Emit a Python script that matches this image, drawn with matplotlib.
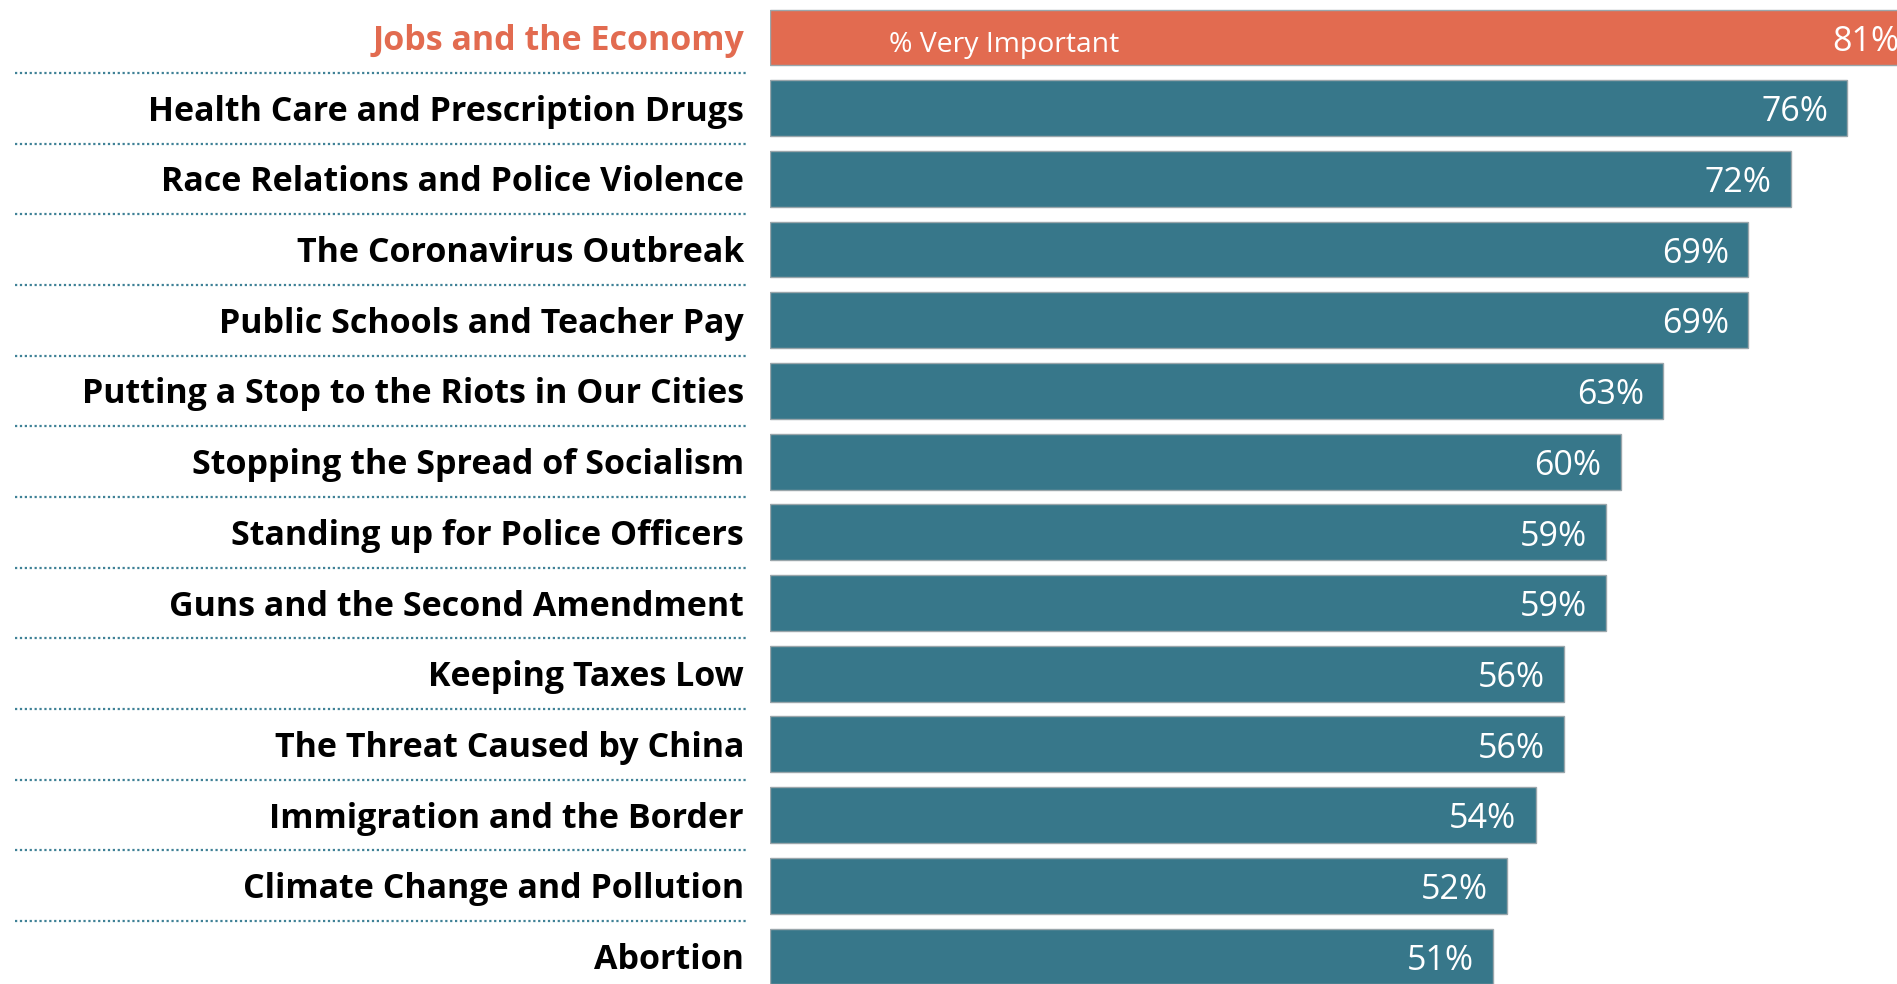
import matplotlib
matplotlib.use("Agg")
import matplotlib.pyplot as plt
import matplotlib.transforms as mtransforms
from matplotlib.lines import Line2D

# survey issues, top to bottom
issues = [
    "Jobs and the Economy",
    "Health Care and Prescription Drugs",
    "Race Relations and Police Violence",
    "The Coronavirus Outbreak",
    "Public Schools and Teacher Pay",
    "Putting a Stop to the Riots in Our Cities",
    "Stopping the Spread of Socialism",
    "Standing up for Police Officers",
    "Guns and the Second Amendment",
    "Keeping Taxes Low",
    "The Threat Caused by China",
    "Immigration and the Border",
    "Climate Change and Pollution",
    "Abortion",
]
very_important = [81, 76, 72, 69, 69, 63, 60, 59, 59, 56, 56, 54, 52, 51]
legend_label = "% Very Important"

orange = "#E26B50"
teal = "#37778A"

plt.rcParams['font.family'] = ['Open Sans', 'DejaVu Sans']

W, H = 1897, 984
fig = plt.figure(figsize=(W / 100, H / 100), dpi=100)
ax = fig.add_axes([770 / W, 0, 1 - 770 / W, 1])

ypos = list(range(len(issues)))
colors = [orange] + [teal] * (len(issues) - 1)
ax.barh(ypos, very_important, height=0.79, color=colors,
        edgecolor="#9aa6ab", linewidth=1.0)

ax.set_xlim(0, 79.5)
ax.set_ylim(13.39, -0.53)
ax.axis("off")

# value labels inside the bars
for y, v in zip(ypos, very_important):
    ax.text(v - 1.35, y + 0.06, f"{v}%", ha="right", va="center",
            color="white", fontsize=24.5)

ax.text(8.4, 0.1, legend_label, ha="left", va="center",
        color="white", fontsize=20.4)

# category labels and dotted separators on the left
trans = mtransforms.blended_transform_factory(fig.transFigure, ax.transData)
for y, name in zip(ypos, issues):
    ax.text(744 / W, y + 0.05, name, transform=trans, ha="right", va="center",
            fontsize=24.5, fontweight="bold",
            color=orange if y == 0 else "black", clip_on=False)
    if y < len(issues) - 1:
        ln = Line2D([15 / W, 747 / W], [y + 0.5, y + 0.5], transform=trans,
                    color="#3f8196", linewidth=1.6, linestyle=(0, (1, 1.2)),
                    clip_on=False)
        ax.add_line(ln)

fig.savefig("out.png", dpi=100)
